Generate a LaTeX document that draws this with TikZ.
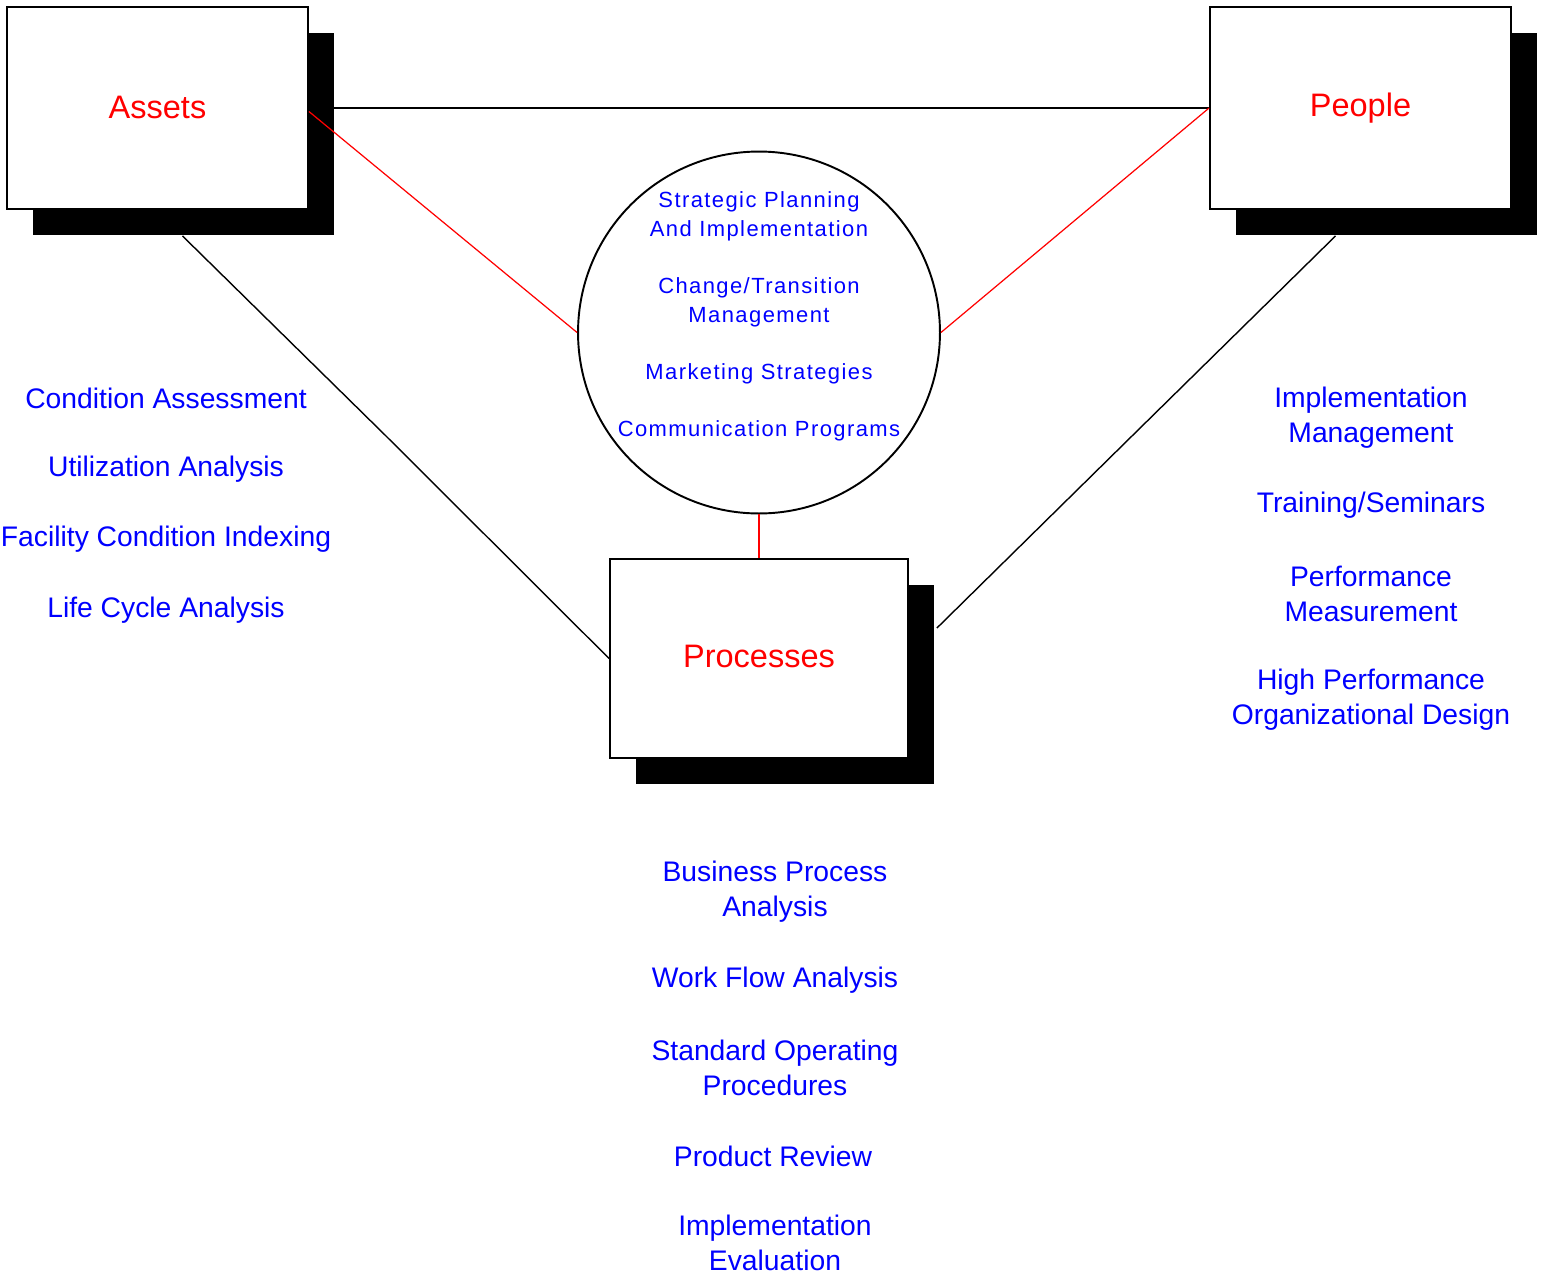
\documentclass[tikz,border=0pt]{standalone}
\usepackage{fontspec}
\setmainfont{Liberation Sans}
\usetikzlibrary{shadows}
\definecolor{labelRed}{RGB}{255,0,0}
\definecolor{itemBlue}{RGB}{0,0,255}

\begin{document}
\begin{tikzpicture}[x=0.02cm,y=-0.02cm,
  pillar/.style={draw=black,fill=white,line width=1.1pt,minimum width=6.02cm,minimum height=4.04cm,inner sep=0pt,
    text=labelRed,font=\fontsize{18.5}{20}\selectfont,
    drop shadow={shadow xshift=0.52cm,shadow yshift=-0.52cm,fill=black,opacity=1}},
  item/.style={text=itemBlue,align=center,inner sep=0pt,yshift=-0.03cm,font=\fontsize{16.1}{19.85}\selectfont},
  link/.style={draw=black,line width=0.8pt},
  redlink/.style={draw=labelRed,line width=0.7pt}]
\path[use as bounding box] (0,0) rectangle (1546,1275);

% three pillars and the hub
\node[pillar] (assets) at (157.5,108) {\raisebox{1.2pt}{Assets}};
\node[pillar] (people) at (1360.5,108) {People};
\node[pillar,minimum width=5.96cm,minimum height=3.98cm] (processes) at (759,658.5) {\raisebox{2.5pt}{Processes}};
\node[circle,draw=black,line width=1.1pt,minimum size=7.24cm,inner sep=0pt] (hub) at (759,332.5) {};
\node[text=itemBlue,align=center,inner sep=0pt,font=\fontsize{12.5}{16.3}\selectfont\addfontfeature{LetterSpace=6.5}] (hubText) at (759,316.5)
  {Strategic Planning\\And Implementation\\[16.3pt]Change/Transition\\Management\\[16.3pt]Marketing Strategies\\[16.3pt]Communication Programs};

% connectors
\coordinate (bendL) at (385,435);
\coordinate (bendR) at (1133,435);
\draw[link] ([xshift=0.5cm]assets.east) -- (people.west);
\draw[link] ([xshift=0.5cm,yshift=-0.52cm]assets.south) -- (bendL) -- (processes.west);
\draw[link] ([xshift=-0.5cm,yshift=-0.52cm]people.south) -- (bendR) -- ([xshift=0.56cm,yshift=0.61cm]processes.east);
\draw[redlink] ([yshift=-2pt]assets.east) -- (hub.west);
\draw[redlink] (hub.east) -- (people.west);
\draw[redlink] (hub.south) -- (processes.north);

% assets list
\node[item] (condition) at (166,397) {Condition Assessment};
\node[item] (utilization) at (166,468) {Utilization Analysis};
\node[item] (facility) at (166,538) {Facility Condition Indexing};
\node[item] (lifeCycle) at (166,609) {Life Cycle Analysis};

% people list
\node[item] (implMgmt) at (1371,416.5) {Implementation\\Management};
\node[item] (training) at (1371,504) {Training/Seminars};
\node[item] (performance) at (1371,592.5) {Performance\\Measurement};
\node[item] (highPerf) at (1371,698) {High Performance\\Organizational Design};

% processes list
\node[item] (business) at (775,890.5) {Business Process\\Analysis};
\node[item] (workFlow) at (775,979) {Work Flow Analysis};
\node[item] (standard) at (775,1066.5) {Standard Operating\\Procedures};
\node[item] (productReview) at (773,1155) {Product Review};
\node[item] (implEval) at (775,1241) {Implementation\\Evaluation};
\end{tikzpicture}
\end{document}
